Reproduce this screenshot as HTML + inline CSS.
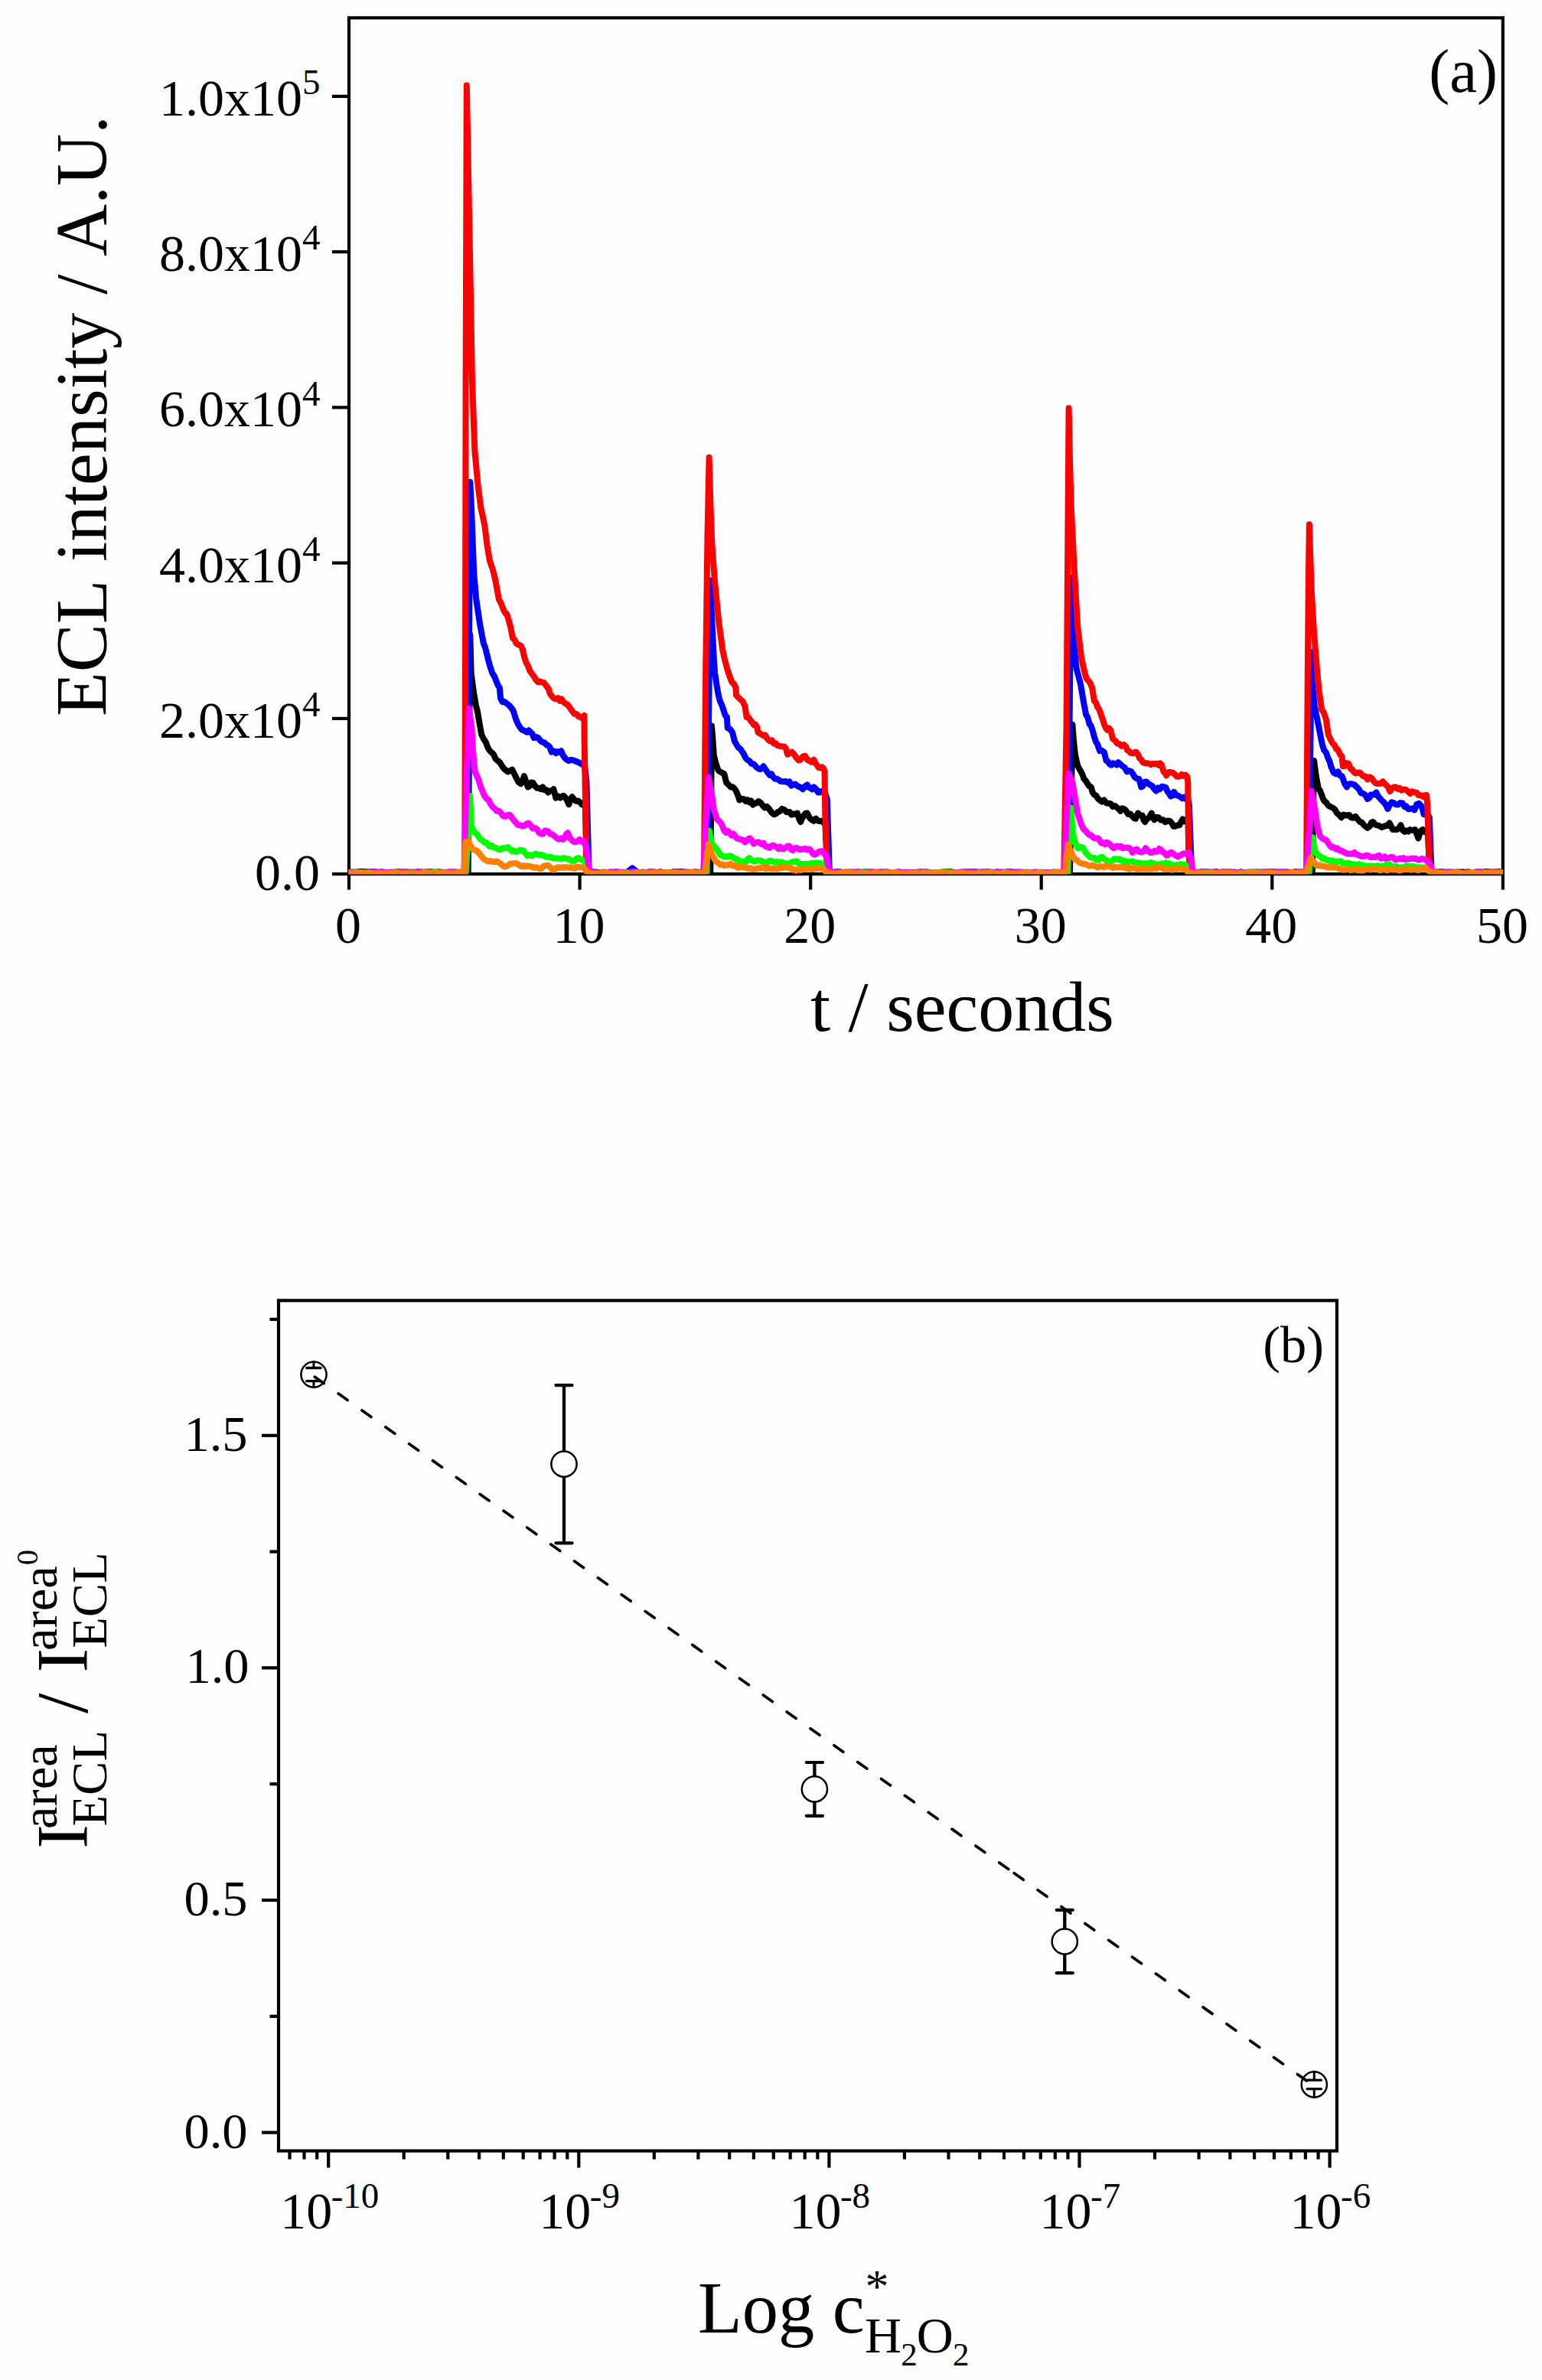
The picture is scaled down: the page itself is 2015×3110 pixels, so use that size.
<!DOCTYPE html>
<html lang="en"><head><meta charset="utf-8"><title>ECL figure</title>
<style>
html,body{margin:0;padding:0;background:#fdfdfd;}
body{width:2015px;height:3110px;overflow:hidden;}
svg{display:block;}
svg text{font-family:"Liberation Serif","Times New Roman",serif;fill:#000;font-kerning:none;font-variant-ligatures:none;}
</style></head><body>
<svg width="2015" height="3110" viewBox="0 0 2015 3110">
<rect x="0" y="0" width="2015" height="3110" fill="#fdfdfd"/>
<g id="panel-a">
<rect x="456.0" y="23.3" width="1507.9" height="1118.8" fill="none" stroke="#000" stroke-width="4.2"/>
<line x1="434.0" y1="1142.1" x2="456.0" y2="1142.1" stroke="#000" stroke-width="4.2"/>
<text x="418" y="1162.5" font-size="68" text-anchor="end">0.0</text>
<line x1="434.0" y1="938.9" x2="456.0" y2="938.9" stroke="#000" stroke-width="4.2"/>
<text x="418.5" y="963.9" font-size="68" text-anchor="end">2.0x10<tspan font-size="47" dy="-27.7">4</tspan></text>
<line x1="434.0" y1="735.6" x2="456.0" y2="735.6" stroke="#000" stroke-width="4.2"/>
<text x="418.5" y="760.6" font-size="68" text-anchor="end">4.0x10<tspan font-size="47" dy="-27.7">4</tspan></text>
<line x1="434.0" y1="532.4" x2="456.0" y2="532.4" stroke="#000" stroke-width="4.2"/>
<text x="418.5" y="557.4" font-size="68" text-anchor="end">6.0x10<tspan font-size="47" dy="-27.7">4</tspan></text>
<line x1="434.0" y1="329.1" x2="456.0" y2="329.1" stroke="#000" stroke-width="4.2"/>
<text x="418.5" y="354.1" font-size="68" text-anchor="end">8.0x10<tspan font-size="47" dy="-27.7">4</tspan></text>
<line x1="434.0" y1="125.9" x2="456.0" y2="125.9" stroke="#000" stroke-width="4.2"/>
<text x="418.5" y="150.9" font-size="68" text-anchor="end">1.0x10<tspan font-size="47" dy="-27.7">5</tspan></text>
<line x1="456.0" y1="1142.1" x2="456.0" y2="1162.6" stroke="#000" stroke-width="4.2"/>
<text x="455.0" y="1232" font-size="68" text-anchor="middle">0</text>
<line x1="757.6" y1="1142.1" x2="757.6" y2="1162.6" stroke="#000" stroke-width="4.2"/>
<text x="756.6" y="1232" font-size="68" text-anchor="middle">10</text>
<line x1="1059.2" y1="1142.1" x2="1059.2" y2="1162.6" stroke="#000" stroke-width="4.2"/>
<text x="1058.2" y="1232" font-size="68" text-anchor="middle">20</text>
<line x1="1360.7" y1="1142.1" x2="1360.7" y2="1162.6" stroke="#000" stroke-width="4.2"/>
<text x="1359.7" y="1232" font-size="68" text-anchor="middle">30</text>
<line x1="1662.3" y1="1142.1" x2="1662.3" y2="1162.6" stroke="#000" stroke-width="4.2"/>
<text x="1661.3" y="1232" font-size="68" text-anchor="middle">40</text>
<line x1="1963.9" y1="1142.1" x2="1963.9" y2="1162.6" stroke="#000" stroke-width="4.2"/>
<text x="1962.9" y="1232" font-size="68" text-anchor="middle">50</text>
<text x="1059" y="1347" font-size="94">t / seconds</text>
<text transform="translate(139.4,936) rotate(-90)" font-size="94.5">ECL intensity / A.U.</text>
<text x="1867.2" y="120.3" font-size="81">(a)</text>
<clipPath id="clipa"><rect x="455.5" y="0" width="1508.6" height="1142.3"/></clipPath>
<g id="curves" clip-path="url(#clipa)">
<path d="M453.0,1139.8 457.6,1140.6 461.9,1140.3 467.4,1139.1 473.4,1139.1 479.1,1139.2 483.5,1140.1 490.8,1139.3 495.7,1140.6 503.5,1140.4 509.1,1141.4 513.2,1141.1 518.4,1139.4 522.9,1139.8 530.1,1139.5 536.5,1140.6 542.0,1140.4 546.2,1139.1 551.0,1140.7 556.7,1139.8 563.1,1140.1 568.3,1141.0 575.1,1139.6 581.4,1140.3 588.9,1140.8 594.0,1141.5 598.5,1140.0 605.5,1139.4 611.7,1141.0 613.0,974.6 614.3,829.4 615.7,880.0 618.5,901.4 622.1,922.8 623.9,929.2 625.7,939.9 629.2,959.9 632.1,965.7 634.9,969.9 637.1,976.1 639.2,979.9 642.1,983.1 644.9,985.6 647.8,991.7 650.6,994.1 653.5,996.8 656.3,1001.3 658.7,1004.6 661.1,1006.5 663.5,1008.4 666.3,1007.4 669.2,1005.6 672.0,1011.0 674.9,1017.0 677.8,1022.2 680.6,1024.1 682.7,1021.2 684.9,1014.1 687.4,1021.1 689.9,1028.4 692.0,1027.3 694.2,1022.5 696.3,1022.7 699.2,1027.2 702.0,1029.8 704.4,1030.0 706.8,1031.2 709.1,1028.4 711.5,1032.3 713.9,1032.1 716.3,1035.5 718.7,1033.5 721.0,1033.5 723.4,1031.2 726.3,1042.6 729.1,1040.4 732.0,1042.6 734.1,1041.0 736.2,1039.8 738.6,1042.0 741.0,1045.6 743.4,1051.2 745.5,1044.1 747.7,1041.2 750.5,1045.4 753.4,1046.9 755.7,1046.6 758.1,1048.6 760.5,1051.2 762.6,1051.4 764.8,1052.6 765.9,1094.0 766.2,1141.0 768.2,1141.2 772.5,1140.1 778.7,1141.2 786.0,1141.2 791.1,1140.0 796.5,1141.2 804.4,1139.4 809.1,1139.6 814.0,1140.2 820.4,1139.7 824.4,1140.0 829.9,1140.4 837.7,1140.7 843.7,1140.5 850.4,1139.1 858.0,1140.9 865.5,1141.0 871.1,1140.0 875.5,1140.6 879.8,1139.2 884.6,1139.4 890.0,1139.1 894.0,1139.4 898.4,1139.9 902.5,1141.2 908.9,1139.4 913.9,1139.9 919.4,1139.3 928.3,1141.0 929.3,1036.9 930.0,948.5 931.4,965.6 932.8,987.0 935.7,998.4 938.2,1005.8 940.7,1008.4 943.5,1009.7 946.4,1011.3 949.2,1022.7 952.1,1025.4 954.9,1028.4 957.3,1028.3 959.7,1030.3 962.1,1034.1 964.2,1039.0 966.3,1045.5 969.2,1043.7 972.1,1044.1 974.4,1047.1 976.8,1045.3 979.2,1048.4 981.6,1046.5 983.9,1051.5 986.3,1049.8 988.7,1049.4 991.1,1047.1 993.5,1048.4 996.3,1052.1 999.2,1055.5 1002.0,1053.9 1004.9,1056.9 1007.0,1059.9 1009.2,1062.6 1011.5,1064.4 1013.9,1063.4 1016.3,1061.2 1019.1,1060.0 1022.0,1056.9 1024.8,1057.9 1027.7,1061.2 1029.8,1061.3 1032.0,1061.0 1034.1,1064.6 1036.3,1064.0 1039.1,1063.5 1042.0,1062.6 1044.1,1069.7 1046.2,1074.0 1048.4,1068.9 1050.5,1065.5 1052.7,1062.7 1054.8,1062.6 1057.7,1068.4 1060.5,1071.2 1063.4,1072.8 1066.2,1069.8 1068.6,1072.4 1071.0,1073.1 1073.4,1072.6 1075.9,1074.9 1078.3,1074.0 1080.5,1122.5 1082.5,1141.0 1084.5,1140.8 1089.4,1140.3 1094.8,1139.1 1098.9,1139.7 1104.0,1140.7 1111.8,1140.1 1119.6,1141.5 1127.4,1139.9 1132.3,1139.6 1137.0,1139.5 1143.5,1141.3 1150.9,1140.2 1157.5,1141.0 1161.8,1140.7 1169.5,1141.0 1176.5,1140.2 1181.2,1141.0 1186.5,1141.0 1194.4,1140.0 1200.0,1141.4 1206.9,1139.4 1211.4,1139.4 1219.1,1141.0 1223.6,1141.1 1231.6,1140.6 1237.0,1140.4 1241.5,1139.0 1249.4,1140.6 1255.5,1141.3 1261.2,1141.2 1268.5,1139.5 1273.5,1139.7 1278.5,1140.5 1283.5,1140.0 1288.0,1141.3 1293.5,1140.1 1299.8,1141.3 1305.5,1141.3 1311.5,1140.3 1317.6,1139.0 1323.3,1139.5 1327.4,1141.0 1332.0,1140.2 1338.9,1140.4 1344.2,1140.3 1350.5,1141.0 1354.9,1140.4 1359.9,1139.7 1367.0,1140.3 1373.2,1140.9 1380.9,1140.1 1387.3,1140.3 1393.4,1140.7 1398.0,1141.0 1400.0,1036.9 1401.4,947.1 1402.8,965.6 1405.0,987.0 1406.8,994.3 1408.5,1001.3 1411.4,1006.2 1414.2,1011.3 1416.4,1017.7 1418.5,1019.8 1420.9,1023.6 1423.3,1027.3 1425.7,1028.4 1427.8,1035.5 1429.9,1038.4 1432.3,1039.6 1434.7,1043.4 1437.1,1045.5 1439.9,1047.6 1442.8,1045.5 1445.6,1049.3 1448.5,1049.8 1451.3,1050.2 1454.2,1054.1 1457.0,1053.0 1459.9,1055.5 1462.0,1057.4 1464.2,1059.8 1466.3,1056.3 1468.5,1056.9 1471.3,1059.2 1474.2,1064.0 1477.0,1063.4 1479.9,1066.9 1482.0,1069.1 1484.2,1069.8 1487.0,1062.6 1489.9,1065.4 1492.7,1065.5 1494.5,1071.7 1496.3,1074.0 1498.1,1070.2 1499.8,1069.8 1502.3,1067.2 1504.8,1062.6 1506.6,1067.7 1508.4,1071.2 1511.3,1068.0 1514.1,1068.3 1517.0,1071.6 1519.8,1071.2 1522.7,1074.1 1525.5,1072.6 1528.4,1072.7 1531.2,1075.5 1533.4,1079.8 1535.5,1079.7 1538.4,1078.5 1541.2,1078.3 1543.4,1074.3 1545.5,1070.5 1548.0,1073.2 1550.5,1071.2 1552.6,1074.0 1553.2,1108.3 1555.5,1141.0 1557.5,1141.1 1562.1,1140.1 1568.2,1139.8 1573.0,1139.8 1579.9,1139.0 1586.1,1140.1 1590.2,1139.8 1596.7,1140.3 1600.9,1141.5 1608.1,1141.4 1612.5,1139.7 1616.7,1140.9 1621.7,1139.3 1627.4,1141.3 1634.7,1139.6 1639.3,1141.3 1645.6,1140.8 1649.9,1139.1 1656.7,1140.1 1661.0,1141.3 1667.5,1141.0 1671.9,1141.1 1676.1,1141.2 1681.9,1139.8 1688.1,1141.3 1693.2,1139.3 1699.3,1139.6 1703.8,1139.4 1708.0,1139.5 1714.8,1141.0 1716.0,1058.3 1717.1,994.1 1720.0,1015.5 1722.8,1029.8 1725.0,1033.2 1727.1,1038.4 1728.9,1043.9 1730.7,1046.9 1733.2,1048.8 1735.7,1052.6 1738.5,1054.1 1741.4,1055.5 1744.2,1057.5 1747.1,1062.6 1749.9,1064.7 1752.8,1068.3 1755.6,1064.6 1758.5,1065.5 1760.9,1065.2 1763.3,1065.1 1765.6,1068.3 1768.5,1068.7 1771.3,1066.9 1774.2,1070.7 1777.0,1074.0 1779.4,1074.4 1781.8,1077.7 1784.2,1079.7 1787.0,1081.8 1789.9,1079.7 1792.0,1075.0 1794.2,1074.0 1797.0,1077.7 1799.9,1078.3 1802.7,1079.4 1805.6,1081.2 1808.1,1080.1 1810.6,1079.0 1813.1,1078.9 1815.6,1075.5 1817.7,1079.2 1819.8,1084.0 1822.7,1084.1 1825.6,1084.0 1828.0,1082.1 1830.5,1078.3 1833.0,1084.9 1835.5,1086.9 1837.9,1085.2 1840.3,1086.6 1842.7,1084.0 1844.8,1085.0 1847.0,1084.7 1849.1,1084.0 1851.2,1089.3 1853.4,1095.4 1855.2,1089.7 1856.9,1085.5 1859.1,1084.0 1861.2,1086.9 1863.6,1085.5 1865.9,1087.6 1867.4,1122.5 1870.5,1141.0 1872.5,1139.2 1879.5,1139.6 1884.1,1139.2 1891.5,1141.2 1898.2,1139.7 1903.1,1139.7 1909.0,1139.4 1914.8,1139.7 1922.6,1141.4 1928.8,1139.6 1936.7,1139.8 1942.1,1139.0 1947.6,1140.2 1953.6,1139.5 1959.6,1139.0 1964.7,1139.2 1966.9,1141.0" fill="none" stroke="#000000" stroke-width="8.0" stroke-linejoin="round" stroke-linecap="round"/>
<path d="M453.0,1139.1 457.1,1139.8 462.0,1140.5 468.1,1140.9 474.8,1140.8 482.3,1140.0 487.6,1141.5 492.2,1140.8 498.8,1139.1 506.1,1141.2 512.6,1140.8 519.9,1139.3 526.0,1140.3 533.3,1141.0 540.6,1140.5 548.2,1140.7 554.9,1139.6 559.1,1139.3 564.5,1139.3 571.9,1140.4 578.4,1140.6 585.1,1140.2 589.1,1141.0 596.1,1140.3 602.2,1140.6 606.5,1140.8 610.4,1141.0 612.0,974.6 614.3,629.8 615.9,661.8 617.5,703.3 619.4,751.2 622.3,783.1 627.0,815.0 631.8,840.5 634.0,845.9 636.1,854.3 638.2,862.9 640.9,872.5 643.5,880.0 646.0,883.6 648.5,890.0 650.6,895.4 652.8,898.5 654.2,912.8 656.7,917.2 659.2,917.1 662.1,919.2 664.9,921.4 667.8,924.4 670.6,928.5 672.4,934.1 674.2,939.9 676.7,945.8 679.2,949.9 681.6,953.1 683.9,954.3 686.3,955.6 688.7,956.8 691.1,954.5 693.4,957.0 695.6,958.9 697.7,964.2 700.6,963.0 703.4,964.2 706.3,968.2 709.1,969.9 711.5,970.4 713.9,973.1 716.3,974.2 718.4,976.1 720.6,982.7 723.4,981.3 726.3,984.2 728.6,982.1 731.0,983.1 733.4,981.3 735.5,986.5 737.7,989.9 740.5,992.8 743.4,994.1 746.2,992.8 749.1,993.4 751.9,994.6 754.8,995.6 757.3,996.8 759.8,998.4 761.9,999.3 764.1,1000.6 766.5,1022.7 769.6,1141.0 771.6,1139.3 779.2,1139.5 787.1,1141.3 791.2,1140.1 798.4,1141.4 804.2,1139.7 809.1,1141.4 813.9,1140.5 818.5,1140.3 826.3,1134.3 833.6,1140.3 841.1,1140.8 846.0,1141.2 852.0,1139.1 856.0,1140.2 861.8,1139.8 866.4,1139.9 871.6,1141.1 875.6,1140.9 883.0,1139.3 890.7,1140.8 898.3,1139.7 903.8,1140.0 911.8,1140.5 917.2,1140.1 922.3,1139.1 924.4,1141.0 925.9,963.3 927.9,758.6 929.2,784.4 930.4,812.1 932.9,862.5 934.2,880.0 937.1,898.5 938.9,908.7 940.7,915.7 943.2,921.1 945.7,928.5 947.8,934.9 949.9,937.1 950.7,951.3 952.8,952.0 954.9,954.0 957.1,957.0 959.9,968.5 962.4,972.8 964.9,977.0 967.3,978.4 969.7,982.1 972.1,985.6 974.4,990.6 976.8,993.1 979.2,994.1 982.0,997.8 984.9,998.4 987.8,1001.9 990.6,1004.1 993.0,1005.2 995.4,1004.3 997.7,1001.3 1000.6,1005.8 1003.4,1009.8 1005.8,1012.8 1008.2,1011.5 1010.6,1015.5 1013.0,1017.8 1015.3,1017.7 1017.7,1019.1 1020.1,1021.0 1022.5,1021.2 1024.8,1021.2 1027.0,1020.9 1029.1,1022.7 1031.5,1021.5 1033.9,1026.6 1036.3,1025.5 1039.1,1024.5 1042.0,1027.0 1044.3,1028.2 1046.7,1029.1 1049.1,1031.2 1052.0,1027.4 1054.8,1025.5 1056.9,1028.8 1059.1,1029.8 1061.2,1031.4 1063.4,1028.4 1066.2,1030.8 1069.1,1035.5 1070.9,1035.5 1072.6,1034.1 1075.5,1034.2 1078.3,1036.2 1080.8,1044.1 1083.9,1141.0 1085.9,1140.4 1091.5,1139.4 1096.1,1139.5 1103.7,1140.2 1108.6,1141.3 1116.6,1140.1 1121.2,1139.5 1125.5,1139.9 1129.9,1139.6 1134.9,1140.4 1142.5,1140.9 1148.1,1140.0 1154.2,1139.9 1159.6,1139.2 1164.7,1141.4 1169.2,1140.3 1175.7,1141.2 1180.6,1139.7 1185.6,1140.0 1191.4,1141.4 1198.8,1141.2 1202.8,1139.1 1209.7,1141.2 1215.6,1140.5 1219.6,1140.0 1227.3,1141.1 1234.7,1141.4 1239.7,1139.3 1244.3,1140.3 1251.0,1141.4 1257.9,1140.6 1265.0,1140.1 1271.2,1139.1 1278.3,1139.6 1286.0,1140.6 1291.2,1139.3 1296.2,1140.6 1303.0,1139.3 1307.3,1140.3 1313.6,1140.0 1318.5,1140.5 1322.6,1139.8 1328.4,1141.4 1335.0,1141.2 1340.9,1139.6 1345.9,1141.4 1352.7,1139.8 1356.8,1140.2 1363.5,1140.1 1368.5,1140.7 1376.2,1139.6 1380.3,1139.8 1386.0,1140.7 1390.8,1141.0 1396.0,1141.0 1397.4,971.3 1399.3,755.1 1400.7,793.9 1402.1,832.7 1406.8,874.3 1409.5,884.3 1412.1,894.3 1415.7,915.7 1419.2,934.2 1421.4,937.6 1423.5,946.0 1425.7,948.5 1427.8,954.7 1429.9,962.8 1432.1,969.3 1434.2,972.7 1437.1,981.3 1439.9,980.7 1442.8,982.7 1445.6,994.1 1447.8,994.9 1449.9,998.4 1452.3,999.7 1454.7,997.4 1457.0,998.4 1459.2,999.5 1461.3,996.3 1464.2,998.8 1467.0,1001.3 1469.9,1003.3 1472.7,1008.4 1475.6,1007.1 1478.4,1008.4 1480.6,1011.6 1482.7,1015.5 1485.6,1017.4 1488.4,1017.7 1491.3,1028.4 1493.4,1027.3 1495.6,1022.0 1497.9,1021.5 1500.3,1023.8 1502.7,1025.5 1505.6,1027.0 1508.4,1031.2 1510.8,1033.5 1513.2,1029.5 1515.5,1031.2 1518.4,1027.7 1521.2,1028.4 1523.4,1029.1 1525.5,1034.1 1527.7,1036.8 1529.8,1040.5 1531.9,1039.6 1534.1,1034.8 1536.9,1039.1 1539.8,1039.8 1542.4,1041.5 1545.0,1043.3 1547.6,1041.5 1549.8,1044.1 1551.9,1042.6 1553.9,1051.2 1557.2,1141.0 1559.2,1139.8 1563.9,1141.3 1570.9,1139.1 1577.6,1139.9 1583.1,1139.8 1587.8,1139.0 1592.9,1139.9 1600.7,1139.3 1608.6,1139.5 1614.0,1141.1 1621.3,1140.1 1625.5,1140.2 1631.0,1141.3 1635.7,1139.9 1643.3,1139.1 1649.0,1141.0 1656.0,1139.1 1660.2,1139.2 1667.8,1139.6 1674.8,1141.2 1680.2,1139.7 1688.0,1140.5 1693.1,1140.8 1698.3,1139.7 1702.4,1140.9 1710.6,1141.0 1711.9,1011.4 1713.7,851.9 1715.0,894.3 1717.8,922.8 1719.6,932.0 1721.4,939.9 1725.0,958.5 1727.5,971.3 1730.0,979.9 1732.8,983.3 1735.7,991.3 1737.5,995.0 1739.2,1001.3 1741.0,1005.4 1742.8,1009.8 1745.7,1011.3 1748.5,1008.4 1751.0,1013.4 1753.5,1014.1 1755.3,1018.6 1757.1,1024.1 1759.9,1028.4 1762.1,1025.0 1764.2,1024.1 1767.1,1024.5 1769.9,1025.5 1772.8,1028.3 1775.6,1031.2 1778.5,1036.1 1781.3,1036.9 1784.2,1039.0 1787.0,1044.1 1789.2,1042.7 1791.3,1038.4 1793.7,1038.6 1796.1,1038.0 1798.4,1035.5 1800.6,1040.4 1802.7,1042.6 1805.6,1046.0 1808.4,1048.4 1810.9,1051.8 1813.4,1056.9 1815.9,1051.8 1818.4,1048.4 1821.3,1049.1 1824.1,1051.2 1827.0,1051.5 1829.8,1049.1 1832.7,1049.5 1835.5,1054.1 1837.9,1053.6 1840.3,1057.2 1842.7,1056.9 1845.5,1056.4 1848.4,1058.3 1851.2,1051.2 1854.1,1049.8 1856.9,1052.6 1858.7,1056.1 1860.5,1064.0 1863.4,1064.7 1866.2,1064.8 1867.9,1068.3 1870.6,1141.0 1872.6,1139.8 1880.5,1141.2 1888.5,1139.7 1892.8,1139.2 1898.8,1140.8 1904.6,1139.6 1910.3,1140.6 1917.0,1140.9 1924.3,1140.7 1928.8,1141.1 1934.0,1140.4 1939.5,1140.8 1944.3,1139.6 1949.3,1139.4 1956.8,1140.4 1962.1,1140.0 1966.9,1141.0" fill="none" stroke="#0000ff" stroke-width="8.0" stroke-linejoin="round" stroke-linecap="round"/>
<path d="M453.0,1140.3 457.9,1141.0 464.5,1141.5 468.9,1140.2 476.2,1141.1 483.9,1139.1 489.1,1139.3 493.8,1141.4 500.1,1141.3 505.6,1141.2 511.4,1139.6 518.5,1141.4 523.0,1140.5 529.4,1139.5 534.9,1139.4 539.7,1139.6 546.1,1140.6 550.9,1139.0 556.3,1140.7 561.0,1139.8 565.8,1141.0 572.0,1139.2 576.4,1140.0 582.6,1140.6 587.0,1139.4 593.8,1140.0 598.9,1139.8 607.2,1141.0 608.0,880.0 608.6,500.0 609.8,111.5 613.4,300.0 617.0,499.0 620.4,590.0 624.8,636.2 628.6,665.0 631.0,675.2 633.4,687.3 636.6,712.8 639.8,732.0 641.7,737.9 643.6,743.2 645.7,751.3 647.8,760.7 651.9,783.1 653.9,786.7 655.8,791.1 657.9,796.5 660.0,800.9 662.2,802.2 664.5,809.6 666.9,818.2 670.1,834.2 672.3,835.4 674.4,840.6 676.5,842.1 678.6,842.8 680.8,844.0 682.9,848.5 685.3,859.2 687.7,866.1 690.1,870.4 692.5,876.9 694.9,880.0 697.7,883.8 700.6,888.6 703.0,891.3 705.3,890.3 707.7,891.4 710.6,891.9 713.4,895.7 716.3,899.1 719.1,907.1 721.6,910.2 724.1,912.8 726.6,913.1 729.1,912.1 731.5,915.7 733.9,913.5 736.2,917.1 738.4,919.1 740.5,919.9 743.4,922.9 746.2,927.1 748.4,930.0 750.5,932.8 753.4,932.9 756.2,936.4 758.4,936.4 760.5,938.5 763.4,934.9 763.6,965.6 765.8,1094.0 765.9,1141.0 767.9,1140.3 775.6,1139.3 781.6,1141.0 789.4,1139.5 793.9,1141.4 801.8,1140.2 806.1,1141.3 811.6,1141.3 818.1,1141.1 822.7,1141.0 827.6,1140.0 835.0,1141.1 839.7,1139.5 845.3,1140.3 850.9,1139.3 855.9,1140.8 863.4,1139.1 869.7,1140.9 873.8,1141.1 878.3,1140.5 884.5,1140.6 889.7,1140.1 896.1,1140.1 902.7,1140.1 908.5,1139.1 914.9,1140.2 920.0,1141.0 922.1,880.0 924.5,700.0 926.6,597.8 928.4,660.8 930.4,711.2 934.2,761.7 939.2,812.1 944.3,849.9 946.9,861.2 949.5,871.3 952.1,880.0 954.2,885.5 956.4,891.4 958.9,893.4 961.4,898.5 962.1,908.5 964.9,911.3 967.8,914.2 970.6,916.6 973.5,922.8 975.6,937.1 978.1,937.4 980.6,941.3 982.8,943.9 984.9,947.1 987.0,946.5 989.2,949.9 990.6,957.0 993.0,958.2 995.4,959.9 997.7,961.3 999.9,960.5 1002.0,964.2 1004.2,967.0 1006.3,968.5 1008.7,967.4 1011.1,971.5 1013.4,971.3 1016.3,974.4 1019.1,974.9 1022.0,975.3 1024.8,975.6 1027.0,978.4 1029.1,985.6 1032.0,984.2 1034.8,982.7 1037.7,985.7 1040.5,989.9 1043.4,993.4 1046.2,992.7 1049.1,988.5 1052.0,987.7 1054.8,992.6 1057.7,994.1 1060.5,995.8 1063.4,992.7 1065.5,997.4 1067.6,999.8 1069.8,1003.1 1071.9,1003.4 1074.1,1002.3 1076.2,1004.1 1077.6,1008.4 1078.3,1065.5 1080.5,1122.5 1082.3,1141.0 1084.3,1141.5 1090.3,1141.4 1097.9,1139.4 1105.1,1141.3 1109.3,1139.9 1116.4,1139.4 1124.0,1139.7 1131.2,1139.4 1137.2,1141.3 1142.1,1139.7 1148.1,1139.8 1152.2,1139.5 1156.9,1141.3 1163.6,1141.2 1168.3,1141.0 1172.7,1140.3 1179.3,1139.9 1186.8,1140.4 1193.1,1141.2 1197.5,1141.5 1204.0,1140.0 1211.2,1139.7 1219.2,1140.4 1224.6,1140.9 1230.4,1139.4 1237.4,1139.1 1244.6,1139.6 1251.2,1141.5 1257.5,1140.7 1262.8,1139.0 1266.9,1139.4 1273.4,1140.1 1279.4,1141.2 1284.0,1139.6 1290.6,1139.1 1294.6,1139.9 1299.0,1139.9 1303.9,1140.5 1310.3,1139.5 1316.8,1140.2 1321.3,1141.3 1326.3,1139.4 1330.7,1140.6 1338.2,1141.0 1343.8,1139.7 1347.8,1140.6 1354.1,1139.9 1360.6,1140.1 1368.4,1140.8 1373.4,1141.3 1377.6,1140.3 1383.2,1139.6 1387.4,1140.9 1390.3,1141.0 1393.5,950.0 1395.0,750.0 1396.6,533.3 1398.2,610.9 1399.9,666.3 1404.1,749.5 1408.2,818.8 1413.2,860.4 1415.5,870.4 1417.8,880.0 1419.6,886.4 1421.4,888.6 1424.2,891.8 1427.1,898.5 1429.9,915.7 1432.1,918.0 1434.2,923.8 1436.4,927.1 1438.9,934.2 1441.3,941.3 1443.1,947.0 1444.9,951.3 1447.1,953.8 1449.2,951.7 1451.3,954.2 1454.2,965.6 1457.0,967.5 1459.9,971.3 1462.8,972.1 1465.6,974.9 1468.5,973.1 1471.3,975.6 1473.1,980.3 1474.9,981.3 1477.0,983.6 1479.2,984.2 1481.3,984.2 1484.2,982.5 1487.0,985.6 1489.1,990.8 1491.3,992.7 1493.4,996.0 1495.6,997.0 1498.4,997.2 1501.3,997.7 1503.7,999.1 1506.0,998.0 1508.4,998.4 1511.3,997.8 1514.1,999.8 1515.9,997.6 1517.7,999.1 1520.5,1008.4 1522.3,1009.6 1524.1,1013.4 1527.0,1009.0 1529.8,1009.1 1532.7,1009.8 1535.5,1012.0 1537.7,1014.6 1539.8,1014.8 1541.9,1014.3 1544.1,1012.0 1546.6,1014.0 1549.1,1012.7 1551.6,1015.5 1552.3,1022.7 1553.1,1108.3 1555.2,1141.0 1557.2,1140.8 1562.3,1140.4 1568.0,1141.0 1574.1,1139.7 1580.7,1141.4 1585.5,1141.2 1589.6,1139.7 1594.5,1140.9 1602.3,1140.9 1607.6,1141.2 1612.9,1139.6 1620.6,1140.6 1627.3,1140.7 1635.3,1140.2 1642.6,1140.7 1650.0,1140.1 1656.9,1140.4 1662.2,1139.5 1668.7,1139.2 1676.3,1139.4 1680.4,1139.3 1688.1,1139.9 1692.7,1139.1 1696.9,1140.7 1703.4,1140.7 1707.1,1141.0 1708.8,880.0 1710.0,750.0 1710.9,685.2 1712.4,731.8 1713.7,771.1 1717.0,825.7 1721.4,880.0 1723.5,901.4 1727.1,927.1 1730.0,931.4 1732.8,939.9 1735.7,959.9 1738.5,966.0 1741.4,971.3 1743.8,973.5 1746.1,978.5 1748.5,979.9 1751.0,985.7 1753.5,988.4 1754.9,1001.3 1757.4,1001.0 1759.9,997.0 1762.3,997.8 1764.7,1004.5 1767.1,1005.6 1769.4,1009.0 1771.8,1010.5 1774.2,1009.8 1776.6,1009.4 1778.9,1011.3 1781.3,1014.1 1784.2,1014.4 1787.0,1018.4 1789.9,1015.4 1792.7,1017.0 1795.1,1021.0 1797.5,1023.2 1799.9,1024.1 1802.2,1023.8 1804.6,1023.8 1807.0,1021.2 1809.9,1024.7 1812.7,1027.0 1814.5,1029.5 1816.3,1034.1 1818.9,1030.3 1821.5,1028.4 1824.1,1028.4 1826.5,1031.0 1828.9,1029.8 1831.3,1032.7 1834.1,1031.4 1837.0,1031.9 1839.8,1034.1 1842.7,1036.9 1844.8,1034.2 1847.0,1034.8 1849.1,1035.5 1851.2,1035.7 1853.4,1038.9 1855.5,1039.1 1857.7,1039.5 1859.8,1041.2 1861.9,1039.3 1864.1,1039.1 1865.2,1051.2 1867.4,1122.5 1870.5,1141.0 1872.5,1141.4 1878.5,1141.1 1885.0,1139.1 1890.6,1140.1 1897.7,1139.9 1904.6,1140.3 1909.4,1141.2 1913.8,1141.0 1918.5,1139.0 1923.3,1140.9 1931.2,1139.0 1937.1,1140.2 1944.3,1139.5 1950.3,1139.9 1957.6,1139.7 1965.4,1139.7 1966.9,1141.0" fill="none" stroke="#ff0000" stroke-width="8.0" stroke-linejoin="round" stroke-linecap="round"/>
<path d="M453.0,1140.7 459.0,1139.3 465.5,1139.2 472.7,1140.7 479.8,1140.6 485.3,1140.0 490.8,1141.2 495.2,1141.2 499.3,1139.5 504.3,1141.3 510.3,1139.9 517.9,1139.6 523.7,1140.3 530.7,1140.9 537.3,1139.9 542.6,1139.4 550.0,1140.7 557.0,1139.4 562.7,1140.9 569.0,1139.3 574.9,1141.2 579.8,1139.5 585.0,1140.8 592.4,1139.4 597.0,1139.6 602.4,1140.3 608.6,1141.0 612.0,1090.0 614.0,1040.0 615.0,1058.3 615.7,1079.7 617.5,1082.8 619.3,1086.9 622.1,1088.9 625.0,1092.6 627.8,1096.8 630.7,1098.3 633.0,1100.8 635.4,1101.0 637.8,1104.0 640.2,1106.2 642.6,1104.8 644.9,1106.9 647.8,1108.0 650.6,1109.7 653.5,1110.3 656.3,1108.3 658.7,1108.6 661.1,1108.0 663.5,1106.9 666.3,1109.5 669.2,1112.6 671.6,1111.7 673.9,1112.9 676.3,1112.6 678.7,1111.0 681.1,1110.8 683.5,1111.1 686.3,1114.4 689.2,1118.3 692.0,1117.0 694.9,1118.3 697.7,1116.6 700.6,1115.4 703.0,1116.7 705.3,1116.9 707.7,1116.8 710.1,1117.8 712.5,1119.1 714.8,1119.7 717.2,1120.1 719.6,1119.6 722.0,1121.1 724.4,1121.6 726.7,1121.3 729.1,1121.8 731.5,1122.3 733.9,1122.5 736.2,1121.1 738.6,1121.4 741.0,1122.3 743.4,1122.5 746.2,1124.7 749.1,1125.4 751.5,1123.8 753.8,1121.8 756.2,1121.1 759.1,1123.2 761.9,1124.0 764.8,1126.8 768.0,1141.0 770.0,1141.2 777.1,1140.8 784.5,1140.7 791.1,1140.1 796.3,1140.6 800.7,1140.0 807.8,1140.8 814.4,1139.6 820.1,1140.1 826.5,1140.0 833.2,1141.3 838.0,1140.6 845.1,1140.0 851.0,1141.4 855.2,1140.4 859.8,1141.0 867.6,1140.3 872.0,1140.4 878.2,1140.8 884.2,1140.6 891.5,1140.3 897.2,1141.4 902.0,1140.7 907.6,1140.9 912.1,1141.5 917.5,1139.1 923.0,1141.0 924.7,1108.3 926.7,1085.5 930.0,1102.6 932.5,1105.1 935.0,1108.3 937.8,1111.2 940.7,1116.8 943.5,1118.0 946.4,1119.7 948.8,1119.0 951.1,1119.3 953.5,1118.3 955.9,1119.3 958.3,1120.5 960.6,1122.5 963.0,1122.7 965.4,1125.1 967.8,1125.4 970.2,1126.6 972.5,1125.5 974.9,1125.4 977.1,1122.5 979.2,1121.1 982.0,1124.1 984.9,1125.4 987.3,1124.9 989.7,1124.1 992.0,1124.7 994.4,1124.4 996.8,1126.9 999.2,1126.8 1001.5,1127.0 1003.9,1125.8 1006.3,1124.7 1008.7,1125.3 1011.1,1126.3 1013.4,1126.8 1015.6,1126.1 1017.7,1128.1 1019.9,1126.4 1022.0,1126.8 1024.1,1127.6 1026.3,1128.4 1028.4,1128.8 1030.6,1128.3 1032.7,1127.4 1034.8,1126.2 1037.0,1126.2 1039.1,1125.4 1041.5,1125.5 1043.9,1128.7 1046.2,1129.0 1048.4,1128.7 1050.5,1130.3 1052.7,1128.8 1054.8,1129.7 1057.2,1128.9 1059.6,1128.0 1061.9,1128.3 1064.3,1128.0 1066.7,1127.4 1069.1,1128.3 1071.9,1127.6 1074.8,1129.7 1076.6,1131.0 1078.3,1131.1 1081.0,1141.0 1083.0,1139.7 1088.0,1139.8 1093.9,1140.1 1100.4,1140.6 1105.9,1141.3 1113.3,1139.1 1120.6,1141.3 1127.8,1139.4 1135.1,1140.6 1139.1,1139.0 1147.0,1140.6 1152.0,1139.3 1156.5,1139.6 1163.6,1139.9 1168.2,1141.3 1175.4,1139.4 1183.0,1140.5 1190.1,1140.7 1197.7,1141.0 1205.0,1139.5 1211.8,1140.3 1218.8,1140.1 1226.3,1140.4 1231.4,1139.6 1235.9,1140.2 1240.1,1140.2 1244.7,1140.2 1250.7,1140.3 1258.2,1139.0 1265.5,1140.2 1271.8,1140.7 1279.1,1139.9 1284.8,1141.4 1289.1,1140.6 1295.7,1139.1 1302.1,1140.7 1309.8,1139.8 1317.8,1140.3 1323.7,1141.2 1327.8,1140.8 1334.3,1139.8 1341.8,1139.9 1347.7,1140.3 1354.8,1139.5 1360.5,1140.1 1366.7,1141.1 1371.9,1141.1 1377.5,1140.3 1382.6,1140.3 1390.5,1140.6 1395.0,1141.0 1397.4,1094.0 1399.5,1055.5 1401.4,1086.9 1404.3,1099.7 1406.4,1103.5 1408.5,1108.3 1411.4,1107.1 1414.2,1106.9 1416.4,1109.9 1418.5,1114.0 1421.4,1117.1 1424.2,1119.7 1427.1,1120.8 1429.9,1121.1 1432.4,1123.3 1434.9,1124.0 1437.4,1120.5 1439.9,1119.7 1442.8,1122.5 1445.6,1124.0 1448.5,1125.8 1451.3,1125.4 1453.7,1124.6 1456.1,1122.2 1458.5,1122.5 1460.8,1122.7 1463.2,1122.6 1465.6,1124.7 1468.0,1124.3 1470.4,1126.8 1472.7,1126.1 1475.1,1126.2 1477.5,1126.1 1479.9,1125.4 1482.0,1126.7 1484.2,1127.6 1486.3,1127.3 1488.4,1127.5 1490.6,1128.0 1492.7,1128.3 1494.9,1128.6 1497.0,1128.3 1499.1,1128.3 1501.3,1128.4 1503.4,1126.9 1505.6,1127.5 1507.7,1128.7 1509.8,1128.8 1512.0,1130.4 1514.1,1130.4 1516.5,1128.8 1518.9,1128.5 1521.2,1129.0 1523.6,1127.4 1526.0,1129.3 1528.4,1128.3 1530.8,1130.4 1533.1,1130.6 1535.5,1131.1 1537.9,1130.0 1540.3,1130.6 1542.6,1129.0 1545.5,1130.1 1548.4,1129.7 1551.2,1131.8 1553.3,1141.0 1555.3,1140.4 1560.3,1139.8 1566.0,1139.8 1571.7,1140.6 1579.5,1139.1 1585.7,1139.1 1590.2,1141.0 1596.5,1141.3 1602.3,1139.0 1607.9,1140.5 1615.6,1141.5 1621.5,1140.0 1625.9,1140.6 1630.8,1139.4 1634.8,1139.0 1641.6,1139.3 1649.4,1139.2 1656.9,1139.3 1661.0,1140.8 1665.9,1140.8 1670.7,1139.1 1677.8,1140.8 1685.2,1140.8 1689.6,1140.6 1696.4,1140.2 1704.1,1139.6 1710.3,1141.0 1712.8,1115.4 1715.0,1094.0 1717.8,1111.1 1720.3,1115.3 1722.8,1118.3 1725.7,1119.0 1728.5,1122.5 1730.9,1121.7 1733.3,1123.9 1735.7,1124.0 1738.0,1125.6 1740.4,1124.2 1742.8,1126.1 1745.2,1125.3 1747.6,1126.3 1749.9,1125.4 1752.3,1125.4 1754.7,1128.3 1757.1,1128.3 1759.2,1128.4 1761.3,1127.4 1763.5,1128.4 1765.6,1129.0 1767.8,1129.4 1769.9,1129.2 1772.1,1130.0 1774.2,1129.7 1776.3,1129.0 1778.5,1131.2 1780.6,1130.4 1782.8,1131.1 1784.9,1131.7 1787.0,1131.8 1789.2,1131.4 1791.3,1131.8 1793.5,1131.3 1795.6,1132.3 1797.7,1132.5 1799.9,1131.1 1802.0,1132.3 1804.2,1132.0 1806.3,1131.6 1808.4,1132.5 1810.8,1130.4 1813.2,1132.0 1815.6,1129.7 1817.9,1131.2 1820.3,1132.5 1822.7,1132.5 1824.8,1132.2 1827.0,1133.2 1829.1,1134.4 1831.3,1133.2 1833.4,1133.8 1835.5,1132.8 1837.7,1131.6 1839.8,1131.8 1842.0,1131.8 1844.1,1133.3 1846.2,1132.0 1848.4,1132.5 1850.5,1133.2 1852.7,1133.2 1854.8,1134.2 1856.9,1133.2 1859.8,1134.1 1862.6,1133.2 1864.8,1133.0 1866.9,1134.0 1870.0,1141.0 1872.0,1139.0 1877.1,1140.1 1883.4,1141.0 1890.9,1139.1 1898.3,1141.0 1905.8,1140.4 1910.8,1141.1 1918.1,1140.7 1925.7,1139.9 1930.1,1140.4 1937.3,1139.5 1944.3,1141.3 1949.2,1140.5 1955.9,1140.2 1960.7,1139.6 1966.9,1141.0" fill="none" stroke="#00ff00" stroke-width="8.0" stroke-linejoin="round" stroke-linecap="round"/>
<path d="M453.0,1141.0 458.8,1139.2 466.1,1140.9 471.0,1140.4 478.6,1141.2 484.7,1140.2 491.0,1139.5 495.8,1139.5 502.6,1139.9 508.9,1140.0 514.9,1139.4 519.1,1141.5 524.6,1139.3 531.1,1141.0 535.8,1140.5 541.1,1140.3 545.2,1139.1 553.2,1141.2 559.1,1140.4 564.2,1140.9 569.9,1141.4 576.9,1141.0 584.8,1139.6 589.0,1139.5 593.7,1139.2 597.9,1140.4 606.3,1141.0 610.0,1008.4 612.8,925.7 616.4,951.3 617.8,979.9 620.7,1008.4 623.2,1014.0 625.7,1019.8 628.2,1028.7 630.7,1034.1 633.5,1040.6 636.4,1044.1 638.8,1045.7 641.1,1051.1 643.5,1054.1 646.4,1056.5 649.2,1059.8 652.1,1059.8 654.9,1062.6 657.8,1066.5 660.6,1066.9 663.5,1064.9 666.3,1064.8 669.2,1068.9 672.0,1072.6 674.4,1075.0 676.8,1078.1 679.2,1078.3 682.0,1079.3 684.9,1079.0 687.7,1076.8 690.6,1075.5 693.4,1078.8 696.3,1082.6 699.2,1082.0 702.0,1084.0 704.9,1088.6 707.7,1089.7 709.9,1089.5 712.0,1085.5 714.4,1085.8 716.7,1086.6 719.1,1089.7 721.5,1090.2 723.9,1092.0 726.3,1094.0 728.6,1096.0 731.0,1096.5 733.4,1095.4 735.5,1096.7 737.7,1095.4 739.8,1090.1 742.0,1088.3 744.1,1093.7 746.2,1096.9 749.1,1099.4 751.9,1100.4 754.8,1099.2 757.6,1096.9 760.5,1100.1 763.4,1099.7 766.2,1108.3 769.8,1135.4 771.5,1141.0 773.5,1139.1 778.1,1140.9 785.8,1140.7 791.0,1140.5 798.1,1139.3 803.4,1139.6 807.9,1140.2 812.5,1139.6 817.1,1140.7 821.2,1140.8 825.9,1139.1 833.6,1139.6 841.4,1141.2 848.9,1139.3 854.7,1139.2 862.4,1141.1 869.0,1140.1 874.3,1141.1 880.2,1140.6 884.8,1139.6 889.0,1140.8 895.2,1139.4 902.7,1139.7 908.4,1139.4 913.4,1141.1 919.0,1141.0 922.1,1079.7 925.7,1015.5 930.0,1036.9 932.8,1058.3 934.6,1062.8 936.4,1069.8 939.2,1072.6 942.1,1075.5 944.2,1079.8 946.4,1085.5 948.8,1087.9 951.1,1085.9 953.5,1088.3 955.9,1091.5 958.3,1089.5 960.6,1092.6 963.0,1095.5 965.4,1096.1 967.8,1096.9 970.6,1097.5 973.5,1100.4 975.6,1098.7 977.8,1096.3 979.9,1095.4 982.4,1098.1 984.9,1102.6 987.3,1100.7 989.7,1100.6 992.0,1100.4 994.9,1103.0 997.7,1101.9 1000.6,1106.2 1003.4,1106.9 1005.6,1107.8 1007.7,1105.4 1010.1,1104.4 1012.5,1105.6 1014.9,1106.9 1017.2,1109.1 1019.6,1106.6 1022.0,1109.0 1024.1,1109.1 1026.3,1107.6 1028.8,1105.7 1031.3,1105.4 1033.8,1110.1 1036.3,1111.1 1039.1,1107.9 1042.0,1108.3 1044.8,1110.2 1047.7,1109.7 1050.1,1109.3 1052.4,1108.8 1054.8,1110.4 1057.7,1109.6 1060.5,1112.6 1062.7,1116.0 1064.8,1116.8 1067.6,1114.8 1070.5,1112.6 1073.4,1112.1 1076.2,1114.0 1078.0,1116.6 1079.8,1119.7 1082.2,1131.9 1084.6,1141.0 1086.6,1139.5 1092.9,1139.3 1097.6,1140.9 1104.5,1139.5 1108.8,1139.2 1115.2,1140.2 1120.3,1139.5 1126.7,1140.8 1134.0,1140.5 1138.8,1139.2 1145.7,1140.0 1152.6,1139.1 1159.9,1139.8 1167.2,1141.2 1173.2,1139.0 1180.8,1140.2 1188.3,1139.7 1193.1,1141.1 1198.5,1139.4 1204.0,1140.5 1208.0,1140.3 1213.8,1140.3 1218.3,1140.8 1225.6,1141.2 1230.9,1140.8 1236.4,1140.9 1240.6,1141.2 1248.5,1140.2 1254.5,1140.3 1260.7,1139.1 1268.5,1139.6 1273.3,1139.3 1278.3,1141.0 1282.4,1139.2 1289.2,1139.5 1293.2,1140.5 1299.5,1140.3 1306.4,1139.3 1313.8,1140.8 1318.0,1139.3 1324.0,1140.3 1329.1,1139.3 1334.7,1139.3 1341.1,1141.2 1345.7,1140.4 1352.7,1139.4 1360.0,1141.3 1365.5,1140.1 1372.9,1140.3 1378.5,1141.4 1385.6,1139.8 1390.5,1141.0 1393.6,1072.6 1396.4,1010.5 1398.9,1016.0 1401.4,1022.7 1405.0,1044.1 1408.5,1064.0 1410.7,1070.2 1412.8,1076.9 1415.7,1083.0 1418.5,1085.5 1420.9,1088.5 1423.3,1090.8 1425.7,1091.2 1428.0,1093.8 1430.4,1095.3 1432.8,1095.4 1434.9,1095.2 1437.1,1098.4 1439.2,1101.5 1441.3,1101.1 1443.7,1103.0 1446.1,1100.7 1448.5,1101.9 1450.9,1103.7 1453.2,1106.6 1455.6,1108.3 1457.8,1106.3 1459.9,1105.4 1462.3,1106.5 1464.7,1105.7 1467.0,1108.3 1469.4,1107.8 1471.8,1107.8 1474.2,1107.6 1477.0,1109.0 1479.9,1114.0 1482.7,1110.5 1485.6,1109.7 1488.0,1112.7 1490.3,1113.1 1492.7,1113.3 1494.9,1112.4 1497.0,1108.3 1499.8,1111.6 1502.7,1114.0 1505.6,1114.1 1508.4,1111.8 1510.5,1112.9 1512.7,1112.6 1514.8,1109.0 1517.0,1110.4 1519.3,1113.3 1521.7,1114.3 1524.1,1117.6 1526.5,1117.0 1528.9,1114.3 1531.2,1114.0 1534.1,1116.3 1536.9,1118.3 1539.3,1119.4 1541.7,1117.8 1544.1,1116.8 1546.9,1115.2 1549.8,1115.4 1551.6,1114.8 1553.3,1114.0 1556.2,1122.5 1559.0,1141.0 1561.0,1140.1 1568.8,1139.7 1574.0,1140.6 1578.5,1140.5 1586.3,1140.3 1591.4,1140.2 1597.5,1139.4 1602.0,1139.3 1607.2,1140.0 1612.4,1139.6 1616.7,1140.4 1624.1,1140.5 1630.4,1140.6 1635.2,1140.8 1641.0,1140.4 1647.5,1140.2 1652.7,1139.6 1657.6,1140.3 1663.1,1140.5 1667.2,1139.9 1674.6,1139.6 1680.8,1140.2 1686.0,1141.5 1691.2,1140.9 1695.8,1139.2 1703.3,1140.1 1706.8,1141.0 1710.7,1086.9 1713.6,1033.4 1716.1,1045.4 1718.5,1058.3 1721.4,1079.7 1723.2,1085.9 1725.0,1092.6 1727.8,1095.6 1730.7,1096.9 1732.8,1097.8 1735.0,1100.6 1737.1,1104.0 1739.9,1107.2 1742.8,1106.9 1745.2,1109.2 1747.6,1108.4 1749.9,1111.1 1752.3,1111.5 1754.7,1112.5 1757.1,1114.0 1759.9,1115.4 1762.8,1115.4 1765.2,1115.4 1767.5,1115.8 1769.9,1114.0 1772.3,1116.6 1774.7,1116.9 1777.0,1118.3 1779.2,1119.0 1781.3,1118.8 1783.5,1118.7 1785.6,1117.6 1788.0,1118.2 1790.4,1120.1 1792.7,1119.7 1795.1,1120.0 1797.5,1120.3 1799.9,1118.3 1802.2,1117.8 1804.6,1121.6 1807.0,1121.1 1809.4,1119.2 1811.8,1122.1 1814.1,1121.1 1816.3,1120.7 1818.4,1119.7 1820.8,1120.6 1823.2,1123.4 1825.6,1122.5 1827.7,1122.5 1829.8,1121.5 1832.0,1122.6 1834.1,1121.1 1836.5,1123.0 1838.9,1122.5 1841.2,1122.5 1843.6,1121.8 1846.0,1121.9 1848.4,1121.8 1850.8,1122.1 1853.1,1123.6 1855.5,1123.3 1857.7,1122.1 1859.8,1122.5 1862.6,1123.6 1865.5,1125.4 1867.3,1127.7 1869.1,1129.7 1872.2,1141.0 1874.2,1140.0 1879.5,1141.0 1886.9,1140.2 1892.7,1139.5 1897.9,1139.4 1904.2,1140.5 1908.5,1141.3 1913.8,1141.1 1921.2,1141.4 1926.0,1140.1 1933.6,1139.0 1937.8,1140.4 1943.8,1141.3 1950.9,1140.3 1958.9,1140.3 1965.0,1140.7 1966.9,1141.0" fill="none" stroke="#ff00ff" stroke-width="8.0" stroke-linejoin="round" stroke-linecap="round"/>
<path d="M453.0,1140.6 459.4,1140.6 467.2,1141.0 473.3,1140.2 478.8,1140.7 485.0,1140.9 492.5,1141.5 498.5,1140.7 505.0,1141.5 510.4,1140.8 517.6,1140.3 522.9,1141.5 530.2,1140.8 534.6,1141.4 541.4,1141.2 549.4,1141.3 555.0,1140.3 560.2,1140.8 566.2,1140.4 570.9,1141.0 577.4,1140.6 585.3,1141.0 589.5,1140.7 596.7,1140.5 603.4,1140.1 606.8,1141.0 607.6,1115.4 608.6,1099.7 610.3,1100.3 612.1,1099.0 614.3,1103.9 616.4,1108.3 618.9,1110.2 621.4,1111.1 623.9,1112.4 626.4,1115.4 629.2,1119.0 632.1,1122.5 634.9,1124.1 637.8,1125.4 640.7,1125.1 643.5,1126.1 646.4,1126.2 649.2,1125.4 652.1,1127.3 654.9,1129.0 657.8,1132.1 660.6,1132.5 663.5,1131.0 666.3,1129.0 669.2,1128.4 672.0,1128.3 674.4,1128.1 676.8,1129.2 679.2,1131.1 681.6,1132.3 683.9,1131.0 686.3,1132.5 688.7,1131.4 691.1,1131.6 693.4,1132.5 695.8,1132.8 698.2,1133.9 700.6,1133.2 703.0,1134.0 705.3,1135.1 707.7,1134.7 710.6,1131.7 713.4,1131.1 716.3,1130.8 719.1,1133.2 721.3,1135.8 723.4,1136.8 726.3,1134.5 729.1,1133.2 731.5,1134.1 733.9,1133.3 736.2,1134.0 738.6,1133.0 741.0,1133.3 743.4,1134.0 746.2,1133.2 749.1,1134.7 751.2,1134.7 753.4,1132.5 756.2,1133.1 759.1,1133.2 761.6,1133.9 764.1,1135.4 766.3,1138.1 768.5,1141.0 770.5,1140.6 774.7,1141.3 781.0,1141.4 786.8,1141.0 791.8,1140.2 799.5,1141.3 804.8,1141.4 812.1,1140.5 818.5,1141.4 824.4,1141.4 829.4,1140.6 836.3,1140.4 841.5,1141.3 847.5,1141.2 852.4,1140.3 857.9,1140.4 865.8,1140.5 872.0,1140.3 878.1,1140.6 883.8,1140.2 888.2,1141.3 893.6,1140.4 898.4,1140.5 903.4,1140.1 910.0,1140.6 914.6,1141.1 919.0,1140.5 921.2,1141.0 923.5,1119.7 925.7,1103.3 927.5,1107.6 929.3,1114.0 931.4,1118.1 933.5,1122.5 936.4,1126.3 939.2,1128.3 941.6,1130.1 944.0,1129.2 946.4,1131.1 948.5,1130.2 950.7,1130.7 952.8,1129.2 954.9,1129.0 957.3,1131.4 959.7,1130.5 962.1,1132.5 964.2,1134.0 966.3,1132.9 968.5,1132.3 970.6,1133.2 972.8,1133.5 974.9,1132.9 977.1,1134.9 979.2,1134.7 981.3,1134.2 983.5,1136.1 985.6,1135.5 987.8,1135.4 989.9,1134.7 992.0,1134.0 994.2,1134.6 996.3,1134.0 998.5,1133.3 1000.6,1135.4 1002.7,1133.4 1004.9,1134.7 1007.0,1134.9 1009.2,1135.1 1011.3,1134.6 1013.4,1135.4 1015.8,1135.7 1018.2,1134.1 1020.6,1134.0 1022.9,1134.2 1025.3,1133.7 1027.7,1133.2 1029.8,1133.6 1032.0,1134.7 1034.1,1134.8 1036.3,1136.8 1038.4,1135.9 1040.5,1137.8 1042.7,1136.3 1044.8,1136.8 1047.0,1136.9 1049.1,1135.0 1051.2,1135.9 1053.4,1135.4 1055.5,1135.2 1057.7,1135.7 1059.8,1135.4 1061.9,1136.1 1064.8,1134.2 1067.6,1134.7 1070.0,1134.4 1072.4,1134.4 1074.8,1135.4 1077.0,1136.2 1079.3,1139.7 1081.5,1141.0 1083.5,1140.5 1089.1,1141.4 1096.2,1141.3 1103.7,1140.3 1108.8,1140.1 1115.5,1141.0 1120.9,1140.7 1127.5,1141.1 1132.5,1141.3 1137.9,1141.0 1142.7,1140.3 1150.3,1141.1 1157.2,1140.2 1161.3,1140.3 1166.1,1140.5 1171.6,1140.2 1176.9,1141.0 1181.6,1141.3 1187.9,1141.1 1192.9,1140.7 1199.6,1140.6 1203.6,1141.3 1210.7,1140.5 1214.9,1141.3 1221.3,1140.2 1226.3,1140.3 1233.5,1140.4 1241.1,1141.1 1245.5,1141.1 1251.1,1141.1 1258.4,1140.5 1262.7,1141.4 1268.4,1141.4 1275.2,1141.1 1282.5,1141.0 1288.3,1140.2 1295.1,1140.7 1301.2,1141.4 1305.7,1141.2 1309.9,1141.1 1317.1,1140.5 1323.3,1141.5 1329.8,1140.9 1334.8,1140.2 1340.2,1140.7 1345.0,1140.5 1349.6,1141.1 1356.3,1140.4 1361.2,1140.8 1367.0,1141.4 1372.4,1140.5 1380.0,1140.3 1386.2,1140.6 1392.3,1141.0 1393.8,1119.7 1395.7,1104.0 1397.8,1109.1 1400.0,1114.0 1402.1,1119.0 1404.3,1122.5 1407.1,1123.8 1410.0,1126.8 1412.3,1128.0 1414.7,1128.5 1417.1,1129.0 1419.2,1129.4 1421.4,1130.8 1423.5,1131.5 1425.7,1131.1 1427.8,1130.6 1429.9,1131.6 1432.1,1132.3 1434.2,1133.2 1436.4,1132.4 1438.5,1132.0 1440.6,1132.6 1442.8,1133.2 1444.9,1131.3 1447.1,1131.1 1449.4,1132.6 1451.8,1132.9 1454.2,1134.0 1456.3,1132.7 1458.5,1133.1 1460.6,1133.3 1462.8,1133.2 1464.9,1133.2 1467.0,1133.0 1469.2,1133.1 1471.3,1134.7 1473.5,1133.1 1475.6,1135.7 1477.7,1134.8 1479.9,1134.0 1482.0,1133.2 1484.2,1135.3 1486.3,1136.4 1488.4,1135.4 1490.6,1135.6 1492.7,1134.3 1494.9,1135.4 1497.0,1135.4 1499.1,1135.2 1501.3,1134.5 1503.4,1135.5 1505.6,1135.4 1508.0,1133.3 1510.5,1135.1 1513.0,1133.7 1515.5,1132.5 1517.9,1133.8 1520.3,1135.7 1522.7,1135.4 1524.8,1136.2 1527.0,1135.4 1529.1,1135.7 1531.2,1136.8 1534.1,1135.4 1536.9,1136.1 1539.1,1134.1 1541.2,1134.7 1543.6,1135.7 1546.0,1136.1 1548.4,1135.4 1550.9,1137.6 1553.5,1141.0 1555.5,1140.4 1562.1,1141.3 1569.8,1140.3 1576.9,1141.3 1583.9,1140.6 1588.6,1141.3 1593.9,1140.6 1600.1,1140.6 1607.4,1140.4 1611.6,1140.9 1618.1,1141.2 1624.9,1141.4 1632.7,1140.8 1638.7,1140.3 1643.9,1140.9 1648.2,1141.1 1652.9,1140.7 1660.7,1140.2 1664.9,1140.7 1669.7,1141.1 1673.7,1141.3 1681.1,1141.2 1686.8,1140.5 1693.5,1140.8 1699.1,1140.6 1706.0,1141.0 1708.0,1135.8 1710.0,1129.7 1712.8,1120.4 1715.0,1124.5 1717.1,1126.8 1719.3,1130.1 1721.4,1131.1 1724.3,1130.5 1727.1,1131.8 1729.5,1131.7 1731.9,1132.6 1734.2,1133.2 1736.4,1133.6 1738.5,1133.2 1740.7,1132.9 1742.8,1134.0 1744.9,1133.2 1747.1,1134.2 1749.2,1134.9 1751.4,1135.4 1753.9,1136.7 1756.4,1136.5 1758.9,1136.4 1761.3,1135.4 1763.8,1136.9 1766.3,1137.0 1768.8,1136.3 1771.3,1136.1 1773.5,1137.3 1775.6,1135.6 1777.8,1137.7 1779.9,1137.5 1782.0,1137.3 1784.2,1135.9 1786.3,1136.1 1788.5,1135.4 1790.6,1136.7 1792.7,1135.3 1794.9,1135.8 1797.0,1135.4 1799.2,1135.2 1801.3,1135.7 1803.4,1137.5 1805.6,1136.8 1807.7,1135.5 1809.9,1135.9 1812.0,1137.3 1814.1,1136.8 1816.3,1136.5 1818.4,1135.3 1820.6,1136.7 1822.7,1136.1 1825.6,1136.5 1828.4,1137.5 1830.8,1137.0 1833.2,1135.9 1835.5,1135.4 1837.7,1135.8 1839.8,1136.3 1842.0,1136.2 1844.1,1136.8 1846.5,1135.7 1848.9,1135.9 1851.2,1136.8 1854.1,1137.2 1856.9,1135.4 1859.3,1135.3 1861.7,1133.8 1864.1,1134.7 1866.3,1137.8 1868.6,1138.2 1870.8,1141.0 1872.8,1140.2 1878.9,1140.5 1884.9,1140.9 1889.8,1140.9 1894.2,1140.8 1900.6,1140.2 1906.2,1140.2 1912.0,1141.3 1918.2,1141.1 1925.2,1140.3 1933.2,1141.1 1937.6,1141.3 1943.2,1140.3 1951.0,1140.9 1958.1,1140.3 1965.2,1140.2 1966.9,1141.0" fill="none" stroke="#ff8000" stroke-width="8.0" stroke-linejoin="round" stroke-linecap="round"/>
</g>
</g>
<g id="panel-b">
<rect x="364.0" y="1699.4" width="1383.0" height="1111.2" fill="none" stroke="#000" stroke-width="4.2"/>
<line x1="342.0" y1="2786.6" x2="364.0" y2="2786.6" stroke="#000" stroke-width="4.2"/>
<text x="323.5" y="2806.6" font-size="66.5" text-anchor="end">0.0</text>
<line x1="352.5" y1="2634.8" x2="364.0" y2="2634.8" stroke="#000" stroke-width="4.2"/>
<line x1="342.0" y1="2483.0" x2="364.0" y2="2483.0" stroke="#000" stroke-width="4.2"/>
<text x="323.5" y="2503.0" font-size="66.5" text-anchor="end">0.5</text>
<line x1="352.5" y1="2331.2" x2="364.0" y2="2331.2" stroke="#000" stroke-width="4.2"/>
<line x1="342.0" y1="2179.4" x2="364.0" y2="2179.4" stroke="#000" stroke-width="4.2"/>
<text x="325.5" y="2199.4" font-size="66.5" text-anchor="end">1.0</text>
<line x1="352.5" y1="2027.6" x2="364.0" y2="2027.6" stroke="#000" stroke-width="4.2"/>
<line x1="342.0" y1="1875.8" x2="364.0" y2="1875.8" stroke="#000" stroke-width="4.2"/>
<text x="323.5" y="1895.8" font-size="66.5" text-anchor="end">1.5</text>
<line x1="352.5" y1="1724.0" x2="364.0" y2="1724.0" stroke="#000" stroke-width="4.2"/>
<line x1="429.2" y1="2810.6" x2="429.2" y2="2832.6" stroke="#000" stroke-width="4.2"/>
<text x="366.2" y="2911.6" font-size="68">10<tspan font-size="47" dx="-1.5" dy="-26.6">-10</tspan></text>
<line x1="527.7" y1="2810.6" x2="527.7" y2="2821.6" stroke="#000" stroke-width="4.2"/>
<line x1="585.3" y1="2810.6" x2="585.3" y2="2821.6" stroke="#000" stroke-width="4.2"/>
<line x1="626.1" y1="2810.6" x2="626.1" y2="2821.6" stroke="#000" stroke-width="4.2"/>
<line x1="657.8" y1="2810.6" x2="657.8" y2="2821.6" stroke="#000" stroke-width="4.2"/>
<line x1="683.7" y1="2810.6" x2="683.7" y2="2821.6" stroke="#000" stroke-width="4.2"/>
<line x1="705.6" y1="2810.6" x2="705.6" y2="2821.6" stroke="#000" stroke-width="4.2"/>
<line x1="724.6" y1="2810.6" x2="724.6" y2="2821.6" stroke="#000" stroke-width="4.2"/>
<line x1="741.3" y1="2810.6" x2="741.3" y2="2821.6" stroke="#000" stroke-width="4.2"/>
<line x1="756.3" y1="2810.6" x2="756.3" y2="2832.6" stroke="#000" stroke-width="4.2"/>
<text x="704.3" y="2911.6" font-size="68">10<tspan font-size="47" dx="-1.5" dy="-26.6">-9</tspan></text>
<line x1="854.8" y1="2810.6" x2="854.8" y2="2821.6" stroke="#000" stroke-width="4.2"/>
<line x1="912.4" y1="2810.6" x2="912.4" y2="2821.6" stroke="#000" stroke-width="4.2"/>
<line x1="953.2" y1="2810.6" x2="953.2" y2="2821.6" stroke="#000" stroke-width="4.2"/>
<line x1="984.9" y1="2810.6" x2="984.9" y2="2821.6" stroke="#000" stroke-width="4.2"/>
<line x1="1010.8" y1="2810.6" x2="1010.8" y2="2821.6" stroke="#000" stroke-width="4.2"/>
<line x1="1032.7" y1="2810.6" x2="1032.7" y2="2821.6" stroke="#000" stroke-width="4.2"/>
<line x1="1051.7" y1="2810.6" x2="1051.7" y2="2821.6" stroke="#000" stroke-width="4.2"/>
<line x1="1068.4" y1="2810.6" x2="1068.4" y2="2821.6" stroke="#000" stroke-width="4.2"/>
<line x1="1083.4" y1="2810.6" x2="1083.4" y2="2832.6" stroke="#000" stroke-width="4.2"/>
<text x="1031.4" y="2911.6" font-size="68">10<tspan font-size="47" dx="-1.5" dy="-26.6">-8</tspan></text>
<line x1="1181.9" y1="2810.6" x2="1181.9" y2="2821.6" stroke="#000" stroke-width="4.2"/>
<line x1="1239.5" y1="2810.6" x2="1239.5" y2="2821.6" stroke="#000" stroke-width="4.2"/>
<line x1="1280.3" y1="2810.6" x2="1280.3" y2="2821.6" stroke="#000" stroke-width="4.2"/>
<line x1="1312.0" y1="2810.6" x2="1312.0" y2="2821.6" stroke="#000" stroke-width="4.2"/>
<line x1="1337.9" y1="2810.6" x2="1337.9" y2="2821.6" stroke="#000" stroke-width="4.2"/>
<line x1="1359.8" y1="2810.6" x2="1359.8" y2="2821.6" stroke="#000" stroke-width="4.2"/>
<line x1="1378.8" y1="2810.6" x2="1378.8" y2="2821.6" stroke="#000" stroke-width="4.2"/>
<line x1="1395.5" y1="2810.6" x2="1395.5" y2="2821.6" stroke="#000" stroke-width="4.2"/>
<line x1="1410.5" y1="2810.6" x2="1410.5" y2="2832.6" stroke="#000" stroke-width="4.2"/>
<text x="1358.5" y="2911.6" font-size="68">10<tspan font-size="47" dx="-1.5" dy="-26.6">-7</tspan></text>
<line x1="1509.0" y1="2810.6" x2="1509.0" y2="2821.6" stroke="#000" stroke-width="4.2"/>
<line x1="1566.6" y1="2810.6" x2="1566.6" y2="2821.6" stroke="#000" stroke-width="4.2"/>
<line x1="1607.4" y1="2810.6" x2="1607.4" y2="2821.6" stroke="#000" stroke-width="4.2"/>
<line x1="1639.1" y1="2810.6" x2="1639.1" y2="2821.6" stroke="#000" stroke-width="4.2"/>
<line x1="1665.0" y1="2810.6" x2="1665.0" y2="2821.6" stroke="#000" stroke-width="4.2"/>
<line x1="1686.9" y1="2810.6" x2="1686.9" y2="2821.6" stroke="#000" stroke-width="4.2"/>
<line x1="1705.9" y1="2810.6" x2="1705.9" y2="2821.6" stroke="#000" stroke-width="4.2"/>
<line x1="1722.6" y1="2810.6" x2="1722.6" y2="2821.6" stroke="#000" stroke-width="4.2"/>
<line x1="1737.6" y1="2810.6" x2="1737.6" y2="2832.6" stroke="#000" stroke-width="4.2"/>
<text x="1685.6" y="2911.6" font-size="68">10<tspan font-size="47" dx="-1.5" dy="-26.6">-6</tspan></text>
<line x1="378.5" y1="2810.6" x2="378.5" y2="2821.6" stroke="#000" stroke-width="4.2"/>
<line x1="397.5" y1="2810.6" x2="397.5" y2="2821.6" stroke="#000" stroke-width="4.2"/>
<line x1="414.2" y1="2810.6" x2="414.2" y2="2821.6" stroke="#000" stroke-width="4.2"/>
<path d="M411.3,1799.2 L1320,2444.0" stroke="#000" stroke-width="3.7" stroke-linecap="round" stroke-dasharray="14.7 23.12" fill="none"/>
<path d="M1325.3,2447.8 L1716,2725.0" stroke="#000" stroke-width="3.7" stroke-linecap="round" stroke-dasharray="14.7 23.12" fill="none"/>
<path d="M410.0,1778.0 V1787.5 M410.0,1804.7 V1814.2" stroke="#000" stroke-width="3.0" fill="none"/>
<path d="M400.8,1787.5 H419.2 M400.8,1804.7 H419.2" stroke="#000" stroke-width="3.3" stroke-linecap="round" fill="none"/>
<circle cx="410.0" cy="1796.1" r="16.6" fill="none" stroke="#000" stroke-width="2.5"/>
<path d="M737.0,1810.1 V1896.6 M737.0,1929.8 V2016.3" stroke="#000" stroke-width="4.3" fill="none"/>
<path d="M726.4,1810.1 H747.6 M726.4,2016.3 H747.6" stroke="#000" stroke-width="4.2" stroke-linecap="round" fill="none"/>
<circle cx="737.0" cy="1913.2" r="16.6" fill="none" stroke="#000" stroke-width="2.5"/>
<path d="M1064.4,2303.0 V2321.3 M1064.4,2354.5 V2372.8" stroke="#000" stroke-width="4.3" fill="none"/>
<path d="M1053.8,2303.0 H1075.0 M1053.8,2372.8 H1075.0" stroke="#000" stroke-width="4.2" stroke-linecap="round" fill="none"/>
<circle cx="1064.4" cy="2337.9" r="16.6" fill="none" stroke="#000" stroke-width="2.5"/>
<path d="M1391.3,2495.8 V2520.4 M1391.3,2553.6 V2578.2" stroke="#000" stroke-width="4.3" fill="none"/>
<path d="M1380.7,2495.8 H1401.9 M1380.7,2578.2 H1401.9" stroke="#000" stroke-width="4.2" stroke-linecap="round" fill="none"/>
<circle cx="1391.3" cy="2537.0" r="16.6" fill="none" stroke="#000" stroke-width="2.5"/>
<path d="M1717.3,2705.8 V2718.2 M1717.3,2729.6 V2742.0" stroke="#000" stroke-width="3.0" fill="none"/>
<path d="M1708.1,2718.2 H1726.5 M1708.1,2729.6 H1726.5" stroke="#000" stroke-width="3.3" stroke-linecap="round" fill="none"/>
<circle cx="1717.3" cy="2723.9" r="16.6" fill="none" stroke="#000" stroke-width="2.5"/>
<text x="1650.2" y="1780.4" font-size="68.5">(b)</text>
<text x="912" y="3047.9" font-size="94.5">Log c</text>
<text x="1145.9" y="3008.1" font-size="62" text-anchor="middle">*</text>
<text x="1130.1" y="3073.5" font-size="66.5">H</text>
<text x="1177.2" y="3090.7" font-size="43">2</text>
<text x="1197.7" y="3073.5" font-size="66.5">O</text>
<text x="1245.1" y="3090.7" font-size="43">2</text>
<g transform="translate(113.8,2415.8) rotate(-90)"><text x="0" y="0" font-size="95">I</text><text x="25.8" y="-39.6" font-size="66.5">area</text><text x="29.3" y="24.7" font-size="66.5">ECL</text><text x="176.9" y="0" font-size="95">/</text><text x="230.2" y="0" font-size="95">I</text><text x="258.8" y="-39.6" font-size="66.5">area</text><text x="370.5" y="-64.6" font-size="40.5">0</text><text x="262" y="24.7" font-size="66.5">ECL</text></g>
</g>
</svg>
</body></html>
